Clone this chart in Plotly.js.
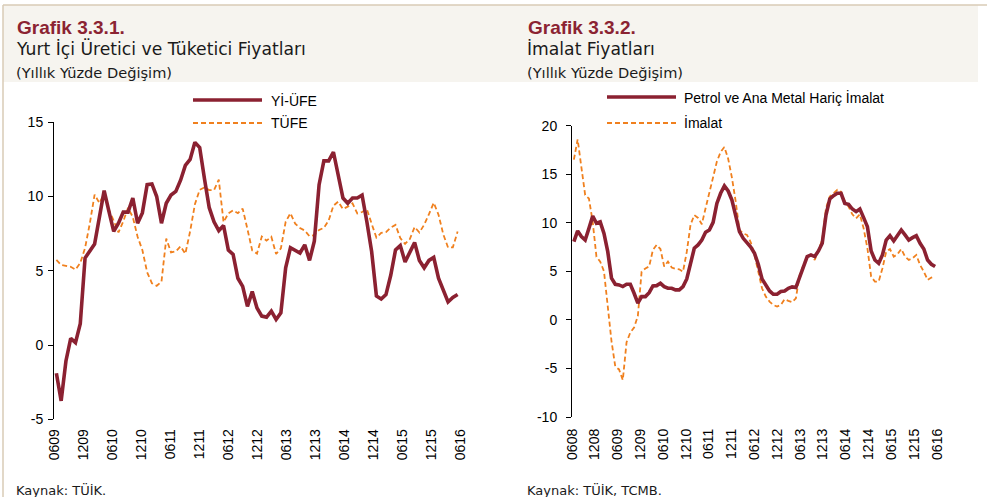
<!DOCTYPE html>
<html><head><meta charset="utf-8">
<script src="https://cdn.plot.ly/plotly-3.0.1.min.js"></script>
<style>html,body{margin:0;padding:0;background:#fff}#chart{width:987px;height:497px}</style>
</head><body><div id="chart"></div>
<script>
// ---------- DATA ----------
// Grafik 3.3.1 : monthly, 2009-06 .. 2016-06
const leftTickLabels = ['0609','1209','0610','1210','0611','1211','0612','1212','0613','1213','0614','1214','0615','1215','0616'];
const ufe = [-1.9,-3.76,-1.07,0.45,0.16,1.43,5.86,6.3,6.8,8.6,
  10.4,9.0,7.65,8.2,8.95,8.95,9.9,8.2,8.9,10.8,
  10.85,10.0,8.2,9.55,10.1,10.35,11.1,12.1,12.5,13.65,
  13.3,11.2,9.25,8.3,7.7,8.05,6.4,6.1,4.5,3.95,
  2.6,3.6,2.5,1.95,1.88,2.28,1.72,2.17,5.2,6.55,
  6.35,6.2,6.75,5.7,7.0,10.8,12.4,12.4,13.0,11.3,
  9.9,9.55,9.9,9.9,10.1,8.3,6.3,3.3,3.1,3.4,
  4.7,6.4,6.7,5.6,6.2,6.9,5.7,5.2,5.7,5.9,
  4.5,3.7,2.9,3.2,3.4];
const tufe = [5.73,5.39,5.33,5.27,5.08,5.53,6.53,
  8.19,10.13,9.56,10.19,9.10,8.37,7.58,8.33,9.24,8.62,7.29,6.40,
  4.90,4.16,3.99,4.26,7.17,6.24,6.31,6.65,6.15,7.66,9.48,10.45,
  10.61,10.43,10.43,11.14,8.28,8.87,9.07,8.88,9.19,7.80,6.37,6.16,
  7.31,7.03,7.29,6.13,6.51,8.30,8.88,8.17,7.88,7.71,7.32,7.40,
  7.75,7.89,8.39,9.38,9.66,9.16,9.32,9.54,8.86,8.96,9.15,8.17,
  7.24,7.55,7.61,7.91,8.09,7.20,6.81,7.14,7.95,7.58,8.10,8.81,
  9.58,8.78,7.46,6.57,6.58,7.64];
const leftYTicks = [-5, 0, 5, 10, 15];

// Grafik 3.3.2 : monthly, 2008-06 .. 2016-06
const rightTickLabels = ['0608','1208','0609','1209','0610','1210','0611','1211','0612','1212','0613','1213','0614','1214','0615','1215','0616'];
const imalatCore = [8.06,9.16,8.58,8.23,9.43,10.7,9.95,10.1,8.9,7.03,
  4.29,3.67,3.6,3.43,3.67,3.67,2.74,1.72,2.4,2.4,
  2.81,3.5,3.53,3.77,3.43,3.26,3.26,3.09,3.09,3.43,
  4.22,5.83,7.38,7.72,8.23,9.02,9.26,10.05,12.0,13.04,
  13.8,13.28,12.35,10.74,9.1,8.4,8.0,7.5,6.86,5.73,
  4.22,3.6,2.98,2.64,2.64,2.92,2.98,3.26,3.4,3.33,
  4.46,5.49,6.52,6.69,6.52,7.1,7.89,10.8,12.45,12.8,
  13.04,13.04,12.0,11.9,11.42,11.15,11.42,10.53,9.6,7.1,
  6.17,5.83,6.69,8.23,8.68,8.13,8.75,9.26,8.75,8.23,
  8.47,8.68,7.89,7.3,6.17,5.73,5.49];
const imalat = [16.5,18.6,15.7,12.86,12.5,10.1,6.5,6.0,5.0,1.5,
  -2.2,-4.8,-5.1,-6.2,-2.3,-1.3,-0.8,0.4,4.97,5.3,
  5.5,7.2,7.72,7.3,5.5,6.0,5.39,5.25,5.21,4.97,
  7.0,9.8,10.8,10.5,9.85,11.5,13.2,14.9,16.3,17.3,
  17.8,16.6,14.65,12.2,9.26,8.9,8.75,8.0,6.69,4.97,
  3.26,2.4,1.89,1.54,1.37,1.54,2.13,1.96,1.82,2.23,
  4.63,5.66,6.52,6.69,6.17,7.2,8.23,11.5,12.7,13.04,
  13.4,13.2,12.2,11.66,10.87,10.46,10.87,9.43,7.38,4.46,
  3.95,3.95,5.32,7.03,7.3,6.52,6.76,7.3,6.52,6.17,
  6.35,6.69,5.66,4.97,4.12,4.36,4.46];
const rightYTicks = [-10, -5, 0, 5, 10, 15, 20];

// ---------- STYLE ----------
const W = 987, H = 497;
const RED = '#8B2131', ORANGE = '#F0801E', TITLE = '#8B2332';
const FONT = 'Liberation Sans, Arial, sans-serif';
const HFONT = 'DejaVu Sans, Liberation Sans, sans-serif';
const px = v => v / W, py = v => 1 - v / H;
const idx = arr => arr.map((_, i) => i);
const spread = (n, lo, hi) => Array.from({length: n}, (_, k) => lo + k * (hi - lo) / (n - 1));

const nL = ufe.length, nR = imalat.length;
const tickL = spread(leftTickLabels.length, -0.5, nL - 0.5);
const tickR = spread(rightTickLabels.length, -0.5, nR - 0.5);

const domXL = [px(54), px(460)], domYL = [py(419.3), py(122.3)];
const domXR = [px(572), px(937)], domYR = [py(417), py(125.7)];
const zeroL = domYL[0] + (domYL[1] - domYL[0]) * 5 / 20;
const zeroR = domYR[0] + (domYR[1] - domYR[0]) * 10 / 30;

const tf = {family: FONT, size: 14, color: '#000'};

const traces = [
  {x: idx(tufe), y: tufe, xaxis: 'x', yaxis: 'y', mode: 'lines', name: 'TÜFE',
   line: {color: ORANGE, width: 1.8, dash: '5px,3px'}},
  {x: idx(ufe), y: ufe, xaxis: 'x', yaxis: 'y', mode: 'lines', name: 'Yİ-ÜFE',
   line: {color: RED, width: 3.6}},
  {x: idx(imalat), y: imalat, xaxis: 'x2', yaxis: 'y3', mode: 'lines', name: 'İmalat',
   line: {color: ORANGE, width: 1.8, dash: '5px,3px'}},
  {x: idx(imalatCore), y: imalatCore, xaxis: 'x2', yaxis: 'y3', mode: 'lines', name: 'Petrol ve Ana Metal Hariç İmalat',
   line: {color: RED, width: 3.6}}
];

const yBase = {showgrid: false, zeroline: false, showline: true, ticks: 'outside', ticklen: 5,
  tickfont: tf, fixedrange: true, tickmode: 'array'};
const yL = {tickvals: leftYTicks, ticktext: leftYTicks.map(String), range: [-5, 15]};
const yR = {tickvals: rightYTicks, ticktext: rightYTicks.map(String), range: [-10, 20]};

const layout = {
  width: W, height: H, margin: {l: 0, r: 0, t: 0, b: 0},
  paper_bgcolor: '#fff', plot_bgcolor: 'rgba(0,0,0,0)', showlegend: false,
  font: {family: FONT},
  xaxis: {domain: domXL, anchor: 'y', range: [-0.5, nL - 0.5], tickmode: 'array', tickvals: tickL,
    ticktext: leftTickLabels, tickangle: -90, ticks: '', showline: false, showgrid: false, zeroline: false,
    tickfont: tf, ticklabelstandoff: 6},
  xaxis2: {domain: domXR, anchor: 'y3', range: [-0.5, nR - 0.5], tickmode: 'array', tickvals: tickR,
    ticktext: rightTickLabels, tickangle: -90, ticks: '', showline: false, showgrid: false, zeroline: false,
    tickfont: tf, ticklabelstandoff: 8},
  xaxis3: {overlaying: 'x', anchor: 'free', position: zeroL, range: [-0.5, nL - 0.5], tickmode: 'array',
    tickvals: tickL, showticklabels: false, ticks: 'outside', ticklen: 5, tickcolor: '#7f7f7f',
    showline: true, linecolor: '#7f7f7f', linewidth: 1, showgrid: false, zeroline: false},
  xaxis4: {overlaying: 'x2', anchor: 'free', position: zeroR, range: [-0.5, nR - 0.5], tickmode: 'array',
    tickvals: tickR, showticklabels: false, ticks: 'outside', ticklen: 5, tickcolor: '#7f7f7f',
    showline: true, linecolor: '#7f7f7f', linewidth: 1, showgrid: false, zeroline: false},
  yaxis: Object.assign({}, yBase, yL, {domain: domYL, anchor: 'x',
    linecolor: '#000', tickcolor: '#000', ticklabelstandoff: 2}),
  yaxis2: Object.assign({}, yBase, yL, {overlaying: 'y', side: 'right', anchor: 'x',
    linecolor: '#7f7f7f', tickcolor: '#7f7f7f', ticklabelstandoff: 9}),
  yaxis3: Object.assign({}, yBase, yR, {domain: domYR, anchor: 'x2',
    linecolor: '#000', tickcolor: '#000', ticklabelstandoff: 6}),
  yaxis4: Object.assign({}, yBase, yR, {overlaying: 'y3', side: 'right', anchor: 'x2',
    linecolor: '#7f7f7f', tickcolor: '#7f7f7f', ticklabelstandoff: 9}),
  shapes: [
    {type: 'rect', xref: 'paper', yref: 'paper', x0: px(3), x1: px(978), y0: py(82), y1: py(5),
     fillcolor: '#F6F4EF', line: {width: 0}, layer: 'below'},
    {type: 'line', xref: 'paper', yref: 'paper', x0: px(3), x1: 1, y0: py(5), y1: py(5),
     line: {color: '#D9CBB6', width: 1.5}},
    {type: 'line', xref: 'paper', yref: 'paper', x0: px(3), x1: px(3), y0: 0, y1: py(5),
     line: {color: '#D9CBB6', width: 1.5}},
    {type: 'line', xref: 'paper', yref: 'paper', x0: px(193), x1: px(262), y0: py(100), y1: py(100),
     line: {color: RED, width: 3.6}},
    {type: 'line', xref: 'paper', yref: 'paper', x0: px(193), x1: px(262), y0: py(123), y1: py(123),
     line: {color: ORANGE, width: 1.8, dash: '5px,3px'}},
    {type: 'line', xref: 'paper', yref: 'paper', x0: px(607), x1: px(676), y0: py(97), y1: py(97),
     line: {color: RED, width: 3.6}},
    {type: 'line', xref: 'paper', yref: 'paper', x0: px(607), x1: px(676), y0: py(123), y1: py(123),
     line: {color: ORANGE, width: 1.8, dash: '5px,3px'}}
  ],
  annotations: []
};

function txt(t, x, y, font) {
  layout.annotations.push({text: t, xref: 'paper', yref: 'paper', x: px(x), y: py(y),
    xanchor: 'left', yanchor: 'middle', showarrow: false, font: font});
}
const titleF = {family: FONT, size: 19, color: TITLE};
const subF = {family: HFONT, size: 17.2, color: '#1a1a1a'};
const noteF = {family: HFONT, size: 14.6, color: '#1a1a1a'};
const srcF = {family: HFONT, size: 13, color: '#1a1a1a'};
txt('<b>Grafik 3.3.1.</b>', 15, 27, titleF);
txt('Yurt İçi Üretici ve Tüketici Fiyatları', 14, 49, subF);
txt('(Yıllık Yüzde Değişim)', 14, 72, noteF);
txt('Kaynak: TÜİK.', 14, 490, srcF);
txt('<b>Grafik 3.3.2.</b>', 526, 27, titleF);
txt('İmalat Fiyatları', 525, 49, subF);
txt('(Yıllık Yüzde Değişim)', 525, 72, noteF);
txt('Kaynak: TÜİK, TCMB.', 525, 490, srcF);
txt('Yİ-ÜFE', 269, 100, tf);
txt('TÜFE', 269, 123, tf);
txt('Petrol ve Ana Metal Hariç İmalat', 682, 97, tf);
txt('İmalat', 682, 123, tf);

Plotly.newPlot('chart', traces, layout, {staticPlot: true, displayModeBar: false});
</script>
</body></html>
